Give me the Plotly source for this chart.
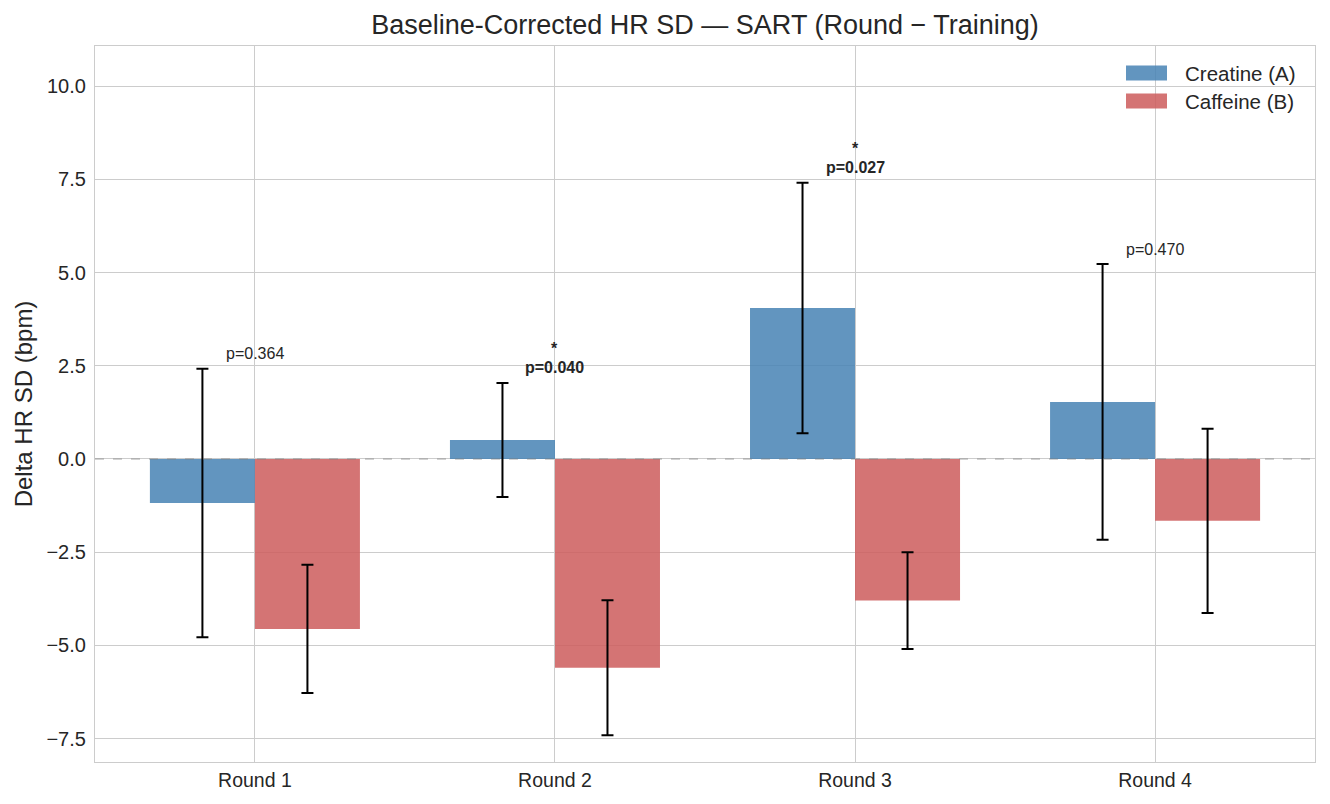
import plotly.graph_objects as go

rounds = ["Round 1", "Round 2", "Round 3", "Round 4"]
creatine_mean = [-1.18, 0.51, 4.05, 1.53]
creatine_err = [3.60, 1.53, 3.36, 3.70]
caffeine_mean = [-4.56, -5.60, -3.80, -1.66]
caffeine_err = [1.72, 1.81, 1.30, 2.47]
p_values = [0.364, 0.040, 0.027, 0.470]
series_names = ["Creatine (A)", "Caffeine (B)"]
series_colors = ["rgba(70,130,180,0.85)", "rgba(205,92,92,0.85)"]

FONT = "Liberation Sans, Arial, sans-serif"
TXT = "#262626"
GRID = "#cccccc"

W, H = 1330, 804
ML, MR, MT, MB = 95, 15, 46, 42
PW, PH = W - ML - MR, H - MT - MB


def px_x(px):
    return (px - ML) / PW


def px_y(py):
    return (H - MB - py) / PH


x_idx = list(range(len(rounds)))

fig = go.Figure()
for name, col, mean, err in [
    (series_names[0], series_colors[0], creatine_mean, creatine_err),
    (series_names[1], series_colors[1], caffeine_mean, caffeine_err),
]:
    fig.add_trace(go.Bar(
        x=x_idx, y=mean, name=name, showlegend=False,
        marker=dict(color=col, line=dict(width=0)),
        error_y=dict(type="data", array=err, visible=True,
                     color="black", thickness=2, width=6),
    ))

# p-value annotations above the highest error bar in each round
for i, p in enumerate(p_values):
    top = max(creatine_mean[i] + creatine_err[i], caffeine_mean[i] + caffeine_err[i])
    sig = p < 0.05
    text = ("<b>p=%.3f</b>" if sig else "p=%.3f") % p
    fig.add_annotation(
        x=i, y=top + 0.12, text=text, showarrow=False,
        xanchor="center", yanchor="bottom",
        font=dict(family=FONT, size=16, color=TXT),
    )
    if sig:
        fig.add_annotation(
            x=i, y=top + 0.12, text="<b>*</b>", showarrow=False,
            xanchor="center", yanchor="bottom", yshift=19,
            font=dict(family=FONT, size=16, color=TXT),
        )

fig.add_shape(type="line", xref="paper", x0=0, x1=1, yref="y", y0=0, y1=0,
              line=dict(color="rgba(128,128,128,0.7)", width=1.2, dash="dash"))

# legend drawn manually (wide matplotlib-style swatches)
leg_centers = [73, 101]
for name, col, cy in zip(series_names, series_colors, leg_centers):
    fig.add_shape(type="rect", xref="paper", yref="paper",
                  x0=px_x(1126), x1=px_x(1167),
                  y0=px_y(cy + 7.5), y1=px_y(cy - 7.5),
                  fillcolor=col, line=dict(width=0), layer="above")
    fig.add_annotation(xref="paper", yref="paper", x=px_x(1183), y=px_y(cy),
                       text=name, showarrow=False, xanchor="left", yanchor="middle",
                       font=dict(family=FONT, size=20.5, color=TXT))

fig.update_layout(
    width=W, height=H,
    margin=dict(l=ML, r=MR, t=MT, b=MB),
    paper_bgcolor="white", plot_bgcolor="white",
    barmode="group", bargap=0.3, bargroupgap=0,
    font=dict(family=FONT, color=TXT, size=20),
    showlegend=False,
    title=dict(text="Baseline-Corrected HR SD — SART (Round − Training)",
               x=0.5, xref="paper", xanchor="center",
               y=1 - 25 / H, yanchor="middle",
               font=dict(family=FONT, size=27, color=TXT)),
    xaxis=dict(
        tickmode="array", tickvals=x_idx, ticktext=rounds,
        range=[-0.533, 3.533],
        showgrid=True, gridcolor=GRID, gridwidth=1.2,
        showline=True, linecolor=GRID, linewidth=1.2, mirror=True,
        ticks="", zeroline=False,
        tickfont=dict(family=FONT, size=19.5, color=TXT),
    ),
    yaxis=dict(
        range=[-8.13, 11.08],
        tickmode="array", tickvals=[-7.5, -5, -2.5, 0, 2.5, 5, 7.5, 10],
        tickformat=".1f",
        showgrid=True, gridcolor=GRID, gridwidth=1.2,
        showline=True, linecolor=GRID, linewidth=1.2, mirror=True,
        ticks="", zeroline=False, ticklabelstandoff=4,
        tickfont=dict(family=FONT, size=20, color=TXT),
        title=dict(text="Delta HR SD (bpm)", standoff=7,
                   font=dict(family=FONT, size=24, color=TXT)),
    ),
)

fig.write_html("out.html")
